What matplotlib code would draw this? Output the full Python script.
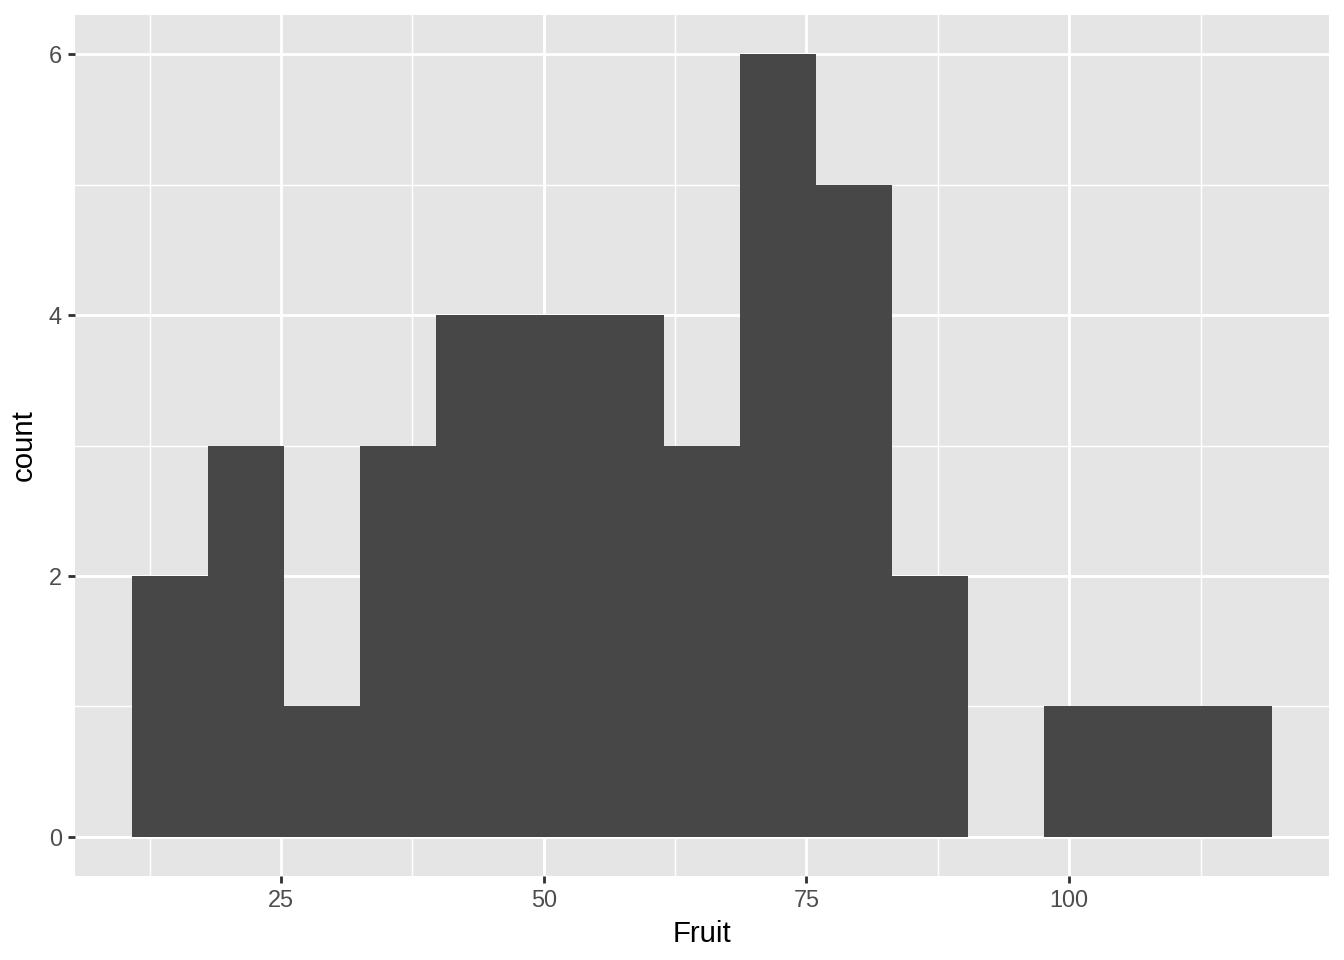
import numpy as np
import matplotlib
matplotlib.use("Agg")
import matplotlib.pyplot as plt

plt.rcParams['font.family'] = ['Liberation Sans', 'DejaVu Sans']

# Histogram of Fruit (15 bins)
bin_width = 7.232
first_edge = 10.82
counts = [2, 3, 1, 3, 4, 4, 4, 3, 6, 5, 2, 0, 1, 1, 1]
x_ticks = [25, 50, 75, 100]
y_ticks = [0, 2, 4, 6]
x_label = "Fruit"
y_label = "count"

edges = first_edge + bin_width * np.arange(len(counts) + 1)

fig = plt.figure(figsize=(7, 5), dpi=192)
ax = fig.add_axes([75/1344, 1-876/960, (1329-75)/1344, (876-15)/960])
ax.set_facecolor("#E5E5E5")

ax.bar(edges[:-1], counts, width=np.diff(edges), align="edge",
       color="#474747", linewidth=0, zorder=3)

xmin, xmax = edges[0], edges[-1]
pad = 0.05 * (xmax - xmin)
ax.set_xlim(xmin - pad, xmax + pad)
ax.set_ylim(-0.3, 6.3)

ax.set_xticks(x_ticks)
ax.set_yticks(y_ticks)
ax.set_xticks([12.5, 37.5, 62.5, 87.5, 112.5], minor=True)
ax.set_yticks([1, 3, 5], minor=True)

ax.grid(which="major", color="white", linewidth=1.07, zorder=1)
ax.grid(which="minor", color="white", linewidth=0.53, zorder=1)
ax.set_axisbelow(True)

for s in ax.spines.values():
    s.set_visible(False)

ax.tick_params(which="major", length=2.75, width=1.07, color="#333333",
               labelsize=8.8, labelcolor="#4D4D4D", pad=2.2)
ax.tick_params(which="minor", length=0)

ax.set_xlabel(x_label, fontsize=11, color="black", labelpad=3)
ax.set_ylabel(y_label, fontsize=11, color="black", labelpad=4)

fig.savefig("out.png", dpi=192)
